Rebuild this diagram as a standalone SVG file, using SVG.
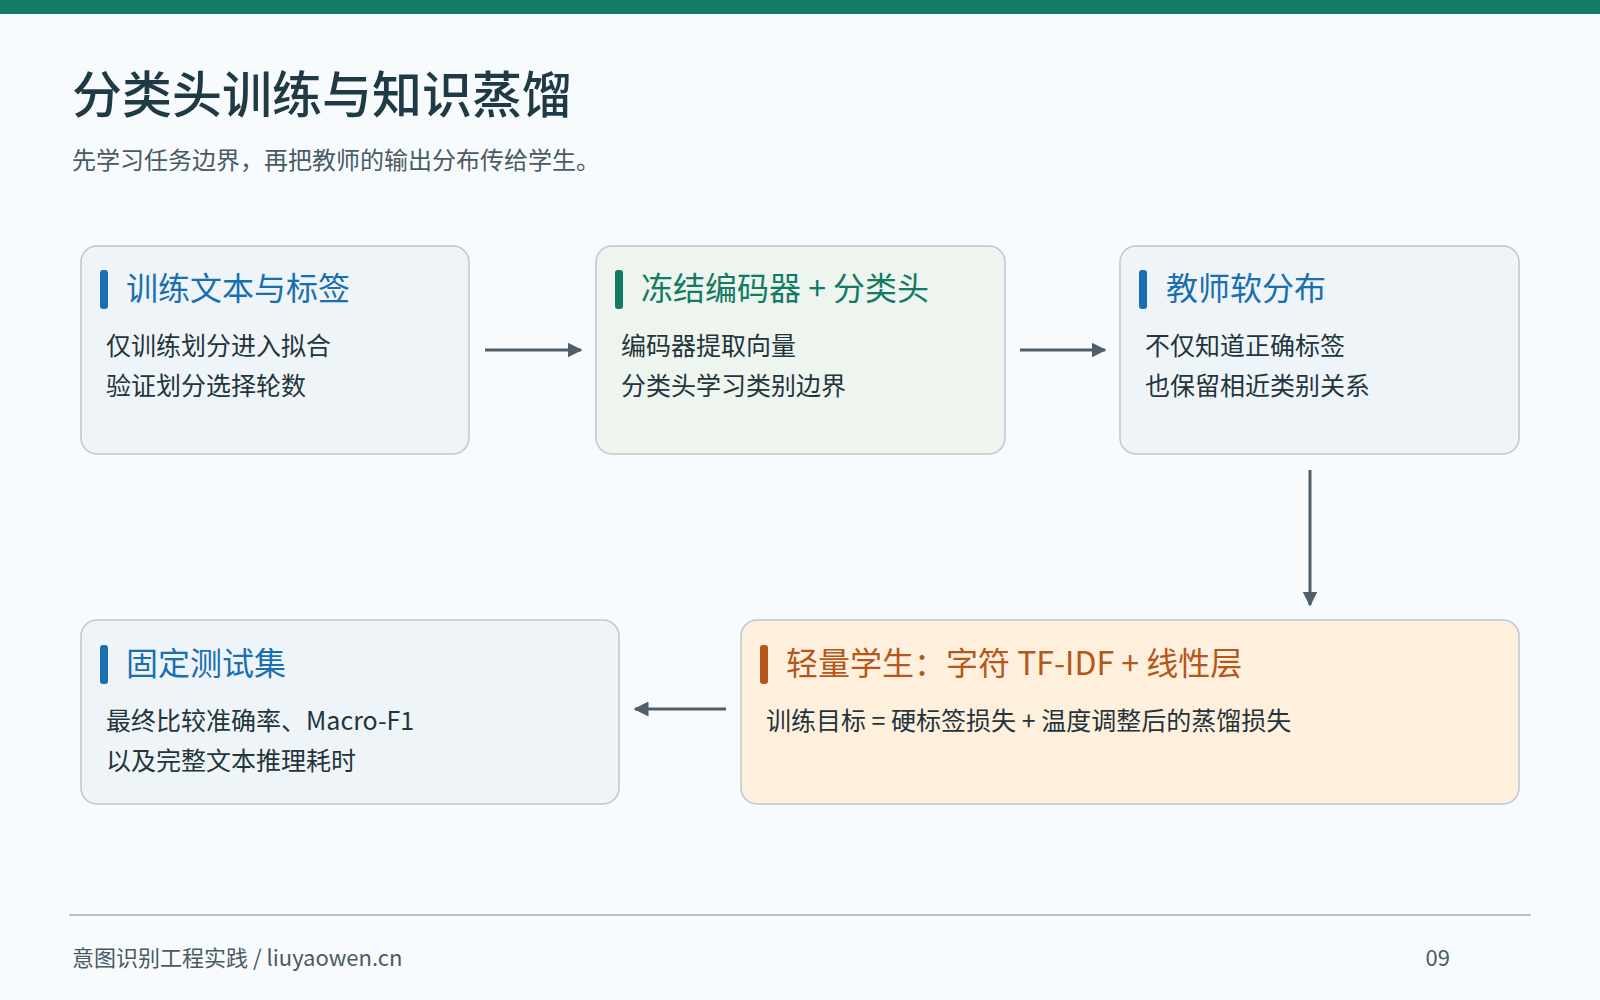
<svg xmlns="http://www.w3.org/2000/svg" width="1600" height="1000" viewBox="0 0 1600 1000">
<defs>
<marker id="ah" viewBox="0 0 10 10" refX="9" refY="5" markerWidth="5" markerHeight="5" orient="auto"><path d="M0,0 L10,5 L0,10 z" fill="#4f5f6a"/></marker>
<style>
text{font-family:"Noto Sans CJK SC","Noto Sans",sans-serif}
.box{stroke:#b9c9d1;stroke-width:1.5}
.h{font-size:32px}
.b{font-size:25px;fill:#24343c}
.c{stroke:#4f5f6a;stroke-width:3;fill:none;marker-end:url(#ah)}
</style>
</defs>
<rect width="1600" height="1000" fill="#f7fbfd"/>
<rect width="1600" height="14" fill="#127a68"/>
<text x="72" y="113" font-size="50" fill="#1f3a44" font-weight="500">分类头训练与知识蒸馏</text>
<text x="72" y="169" font-size="24" fill="#4a5a62">先学习任务边界，再把教师的输出分布传给学生。</text>
<g id="connectors">
<line class="c" x1="485" y1="350" x2="581" y2="350"/>
<line class="c" x1="1020" y1="350" x2="1105" y2="350"/>
<line class="c" x1="1310" y1="470" x2="1310" y2="605"/>
<line class="c" x1="726" y1="709" x2="635" y2="709"/>
</g>
<g id="n1">
<rect class="box" x="81" y="246" width="388" height="208" rx="16" fill="#eef4f7"/>
<rect x="100" y="270" width="8" height="39" rx="3" fill="#1a6fb0"/>
<text class="h" x="126" y="300" fill="#1a6fb0">训练文本与标签</text>
<text class="b" x="106" y="355">仅训练划分进入拟合</text>
<text class="b" x="106" y="395">验证划分选择轮数</text>
</g>
<g id="n2">
<rect class="box" x="596" y="246" width="409" height="208" rx="16" fill="#eef5ef"/>
<rect x="615" y="270" width="8" height="39" rx="3" fill="#137a64"/>
<text class="h" x="641" y="300" fill="#137a64">冻结编码器 + 分类头</text>
<text class="b" x="621" y="355">编码器提取向量</text>
<text class="b" x="621" y="395">分类头学习类别边界</text>
</g>
<g id="n3">
<rect class="box" x="1120" y="246" width="399" height="208" rx="16" fill="#eef4f7"/>
<rect x="1139" y="270" width="8" height="39" rx="3" fill="#1a6fb0"/>
<text class="h" x="1166" y="300" fill="#1a6fb0">教师软分布</text>
<text class="b" x="1145" y="355">不仅知道正确标签</text>
<text class="b" x="1145" y="395">也保留相近类别关系</text>
</g>
<g id="n4">
<rect class="box" x="81" y="620" width="538" height="184" rx="16" fill="#eef4f7"/>
<rect x="100" y="645" width="8" height="39" rx="3" fill="#1a6fb0"/>
<text class="h" x="126" y="675" fill="#1a6fb0">固定测试集</text>
<text class="b" x="106" y="730">最终比较准确率、Macro-F1</text>
<text class="b" x="106" y="770">以及完整文本推理耗时</text>
</g>
<g id="n5">
<rect class="box" x="741" y="620" width="778" height="184" rx="16" fill="#fff0dd"/>
<rect x="760" y="645" width="8" height="39" rx="3" fill="#b5561a"/>
<text class="h" x="786" y="675" fill="#b5561a">轻量学生：字符 TF-IDF + 线性层</text>
<text class="b" x="766" y="730">训练目标 = 硬标签损失 + 温度调整后的蒸馏损失</text>
</g>
<line x1="69" y1="915" x2="1531" y2="915" stroke="#b9c4ca" stroke-width="2"/>
<text x="72" y="966" font-size="22" fill="#4a5a62">意图识别工程实践 / liuyaowen.cn</text>
<text x="1450" y="966" font-size="22" fill="#4a5a62" text-anchor="end">09</text>
</svg>
